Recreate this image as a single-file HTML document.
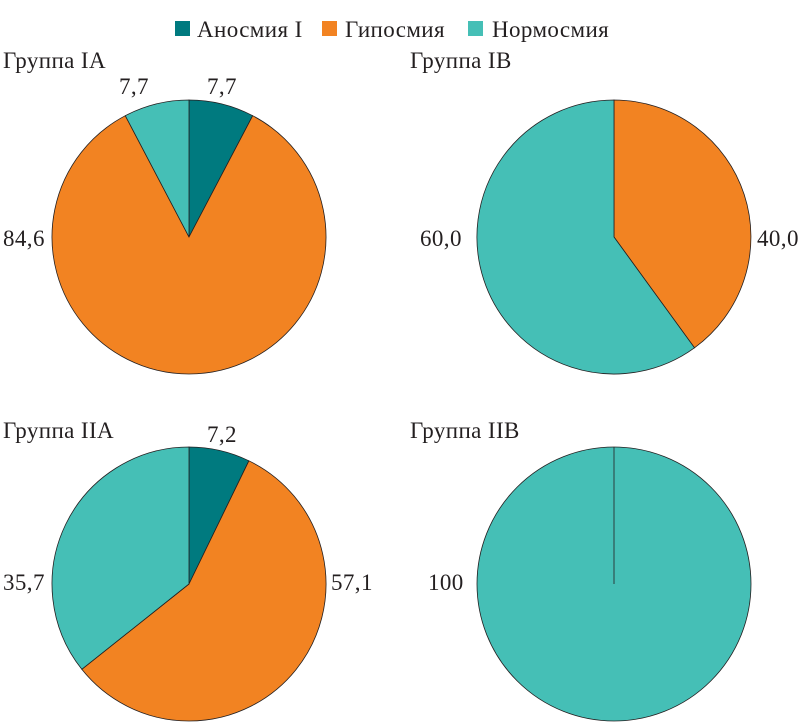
<!DOCTYPE html>
<html><head><meta charset="utf-8"><style>
html,body{margin:0;padding:0;background:#fff;}
svg{display:block;}
text{font-family:"Liberation Serif",serif;font-size:23px;letter-spacing:0.4px;fill:#231f20;}
</style></head><body>
<svg width="800" height="723" viewBox="0 0 800 723" xmlns="http://www.w3.org/2000/svg">
<g stroke="#231f20" stroke-width="0.8">
<rect x="175" y="21" width="15" height="15" fill="#007a7f" stroke="none"/>
<rect x="322" y="21" width="15" height="15" fill="#f28322" stroke="none"/>
<rect x="468" y="21" width="15" height="15" fill="#45bfb6" stroke="none"/>
<path d="M189,237 L189,100 A137,137 0 0 1 252.7,115.7 Z" fill="#007a7f"/>
<path d="M189,237 L252.7,115.7 A137,137 0 1 1 125.3,115.7 Z" fill="#f28322"/>
<path d="M189,237 L125.3,115.7 A137,137 0 0 1 189,100 Z" fill="#45bfb6"/>
<path d="M614,237 L614,100 A137,137 0 0 1 694.5,347.8 Z" fill="#f28322"/>
<path d="M614,237 L694.5,347.8 A137,137 0 1 1 614,100 Z" fill="#45bfb6"/>
<path d="M189,584 L189,447 A137,137 0 0 1 248.9,460.8 Z" fill="#007a7f"/>
<path d="M189,584 L248.9,460.8 A137,137 0 1 1 81.8,669.3 Z" fill="#f28322"/>
<path d="M189,584 L81.8,669.3 A137,137 0 0 1 189,447 Z" fill="#45bfb6"/>
<circle cx="614" cy="584" r="137" fill="#45bfb6"/>
<line x1="614" y1="584" x2="614" y2="447"/>
</g>
<text x="197" y="37">Аносмия I</text>
<text x="345" y="37">Гипосмия</text>
<text x="492" y="37">Нормосмия</text>
<text x="3" y="68">Группа IA</text>
<text x="410" y="68">Группа IB</text>
<text x="3" y="438">Группа IIA</text>
<text x="410" y="438">Группа IIB</text>
<text x="119" y="94">7,7</text>
<text x="207" y="94">7,7</text>
<text x="3" y="246">84,6</text>
<text x="420" y="246">60,0</text>
<text x="757" y="246">40,0</text>
<text x="207" y="442">7,2</text>
<text x="3" y="590">35,7</text>
<text x="331" y="590">57,1</text>
<text x="428" y="590">100</text>
</svg>
</body></html>
